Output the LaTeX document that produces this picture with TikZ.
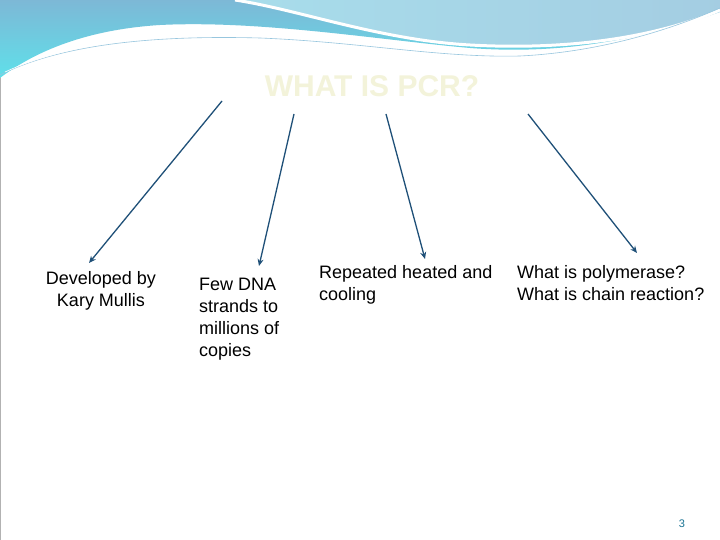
\documentclass[tikz,border=0pt]{standalone}
\usepackage{fontspec}
\setmainfont{Liberation Sans}
\usetikzlibrary{arrows.meta}
\definecolor{arr}{HTML}{1F5078}
\definecolor{waveA}{HTML}{7DB8D6}
\definecolor{waveB}{HTML}{5FE0EA}
\definecolor{waveC}{HTML}{A8DDEB}
\definecolor{ttl}{HTML}{F3F3DA}
\tikzset{lbl/.style={anchor=north west,inner sep=0pt,align=left,font=\fontsize{18pt}{22pt}\selectfont},
 conn/.style={arr,line width=1.3pt,-{Stealth[length=7pt,width=6pt]}}}
\begin{document}
\begin{tikzpicture}[x=1pt,y=-1pt]
\useasboundingbox (0,0) rectangle (720,540);
\fill[white] (0,0) rectangle (720,540);
\draw[gray!60,line width=0.8pt] (0,0) rectangle (720,540);
% wave band
\shade[top color=waveA,bottom color=waveB] (0,0) -- (720,0) -- (720,12)
  .. controls (640,40) and (560,55) .. (470,48)
  .. controls (380,40) and (260,20) .. (160,25)
  .. controls (80,30) and (30,55) .. (0,78) -- cycle;
\shade[left color=waveC,right color=waveA!70] (235,0) .. controls (300,10) and (380,40) .. (470,45)
  .. controls (560,50) and (650,40) .. (720,10) -- (720,0) -- cycle;
\draw[white,line width=3pt] (235,0) .. controls (300,10) and (380,40) .. (470,45)
  .. controls (560,50) and (650,40) .. (720,10);
\draw[waveA!80,line width=0.6pt] (0,75) .. controls (60,45) and (150,35) .. (260,38)
  .. controls (360,42) and (440,58) .. (520,56) .. controls (600,52) and (670,30) .. (720,8);
\draw[white,line width=0.6pt] (5,72) .. controls (70,42) and (160,33) .. (260,35)
  .. controls (360,40) and (440,55) .. (520,53);
\node[font=\bfseries\fontsize{30pt}{32pt}\selectfont,text=ttl] (title) at (372,86) {WHAT IS PCR?};
% labels
\node[lbl,align=center,anchor=north] (n1) at (101,271) {Developed by\\Kary Mullis};
\node[lbl] (n2) at (199,278) {Few DNA\\strands to\\millions of\\copies};
\node[lbl] (n3) at (319,265) {Repeated heated and\\cooling};
\node[lbl] (n4) at (517,265) {What is polymerase?\\What is chain reaction?};
% arrows
\coordinate (s1) at (222,101); \coordinate (e1) at (89,263);
\coordinate (s2) at (294,114); \coordinate (e2) at (259,266);
\coordinate (s3) at (386,114); \coordinate (e3) at (425,259);
\coordinate (s4) at (528,114); \coordinate (e4) at (637,253);
\draw[conn] (s1) -- (e1);
\draw[conn] (s2) -- (e2);
\draw[conn] (s3) -- (e3);
\draw[conn] (s4) -- (e4);
\node[text=arr!80!cyan,font=\fontsize{11pt}{12pt}\selectfont] (pg) at (682,524) {3};
\end{tikzpicture}
\end{document}
